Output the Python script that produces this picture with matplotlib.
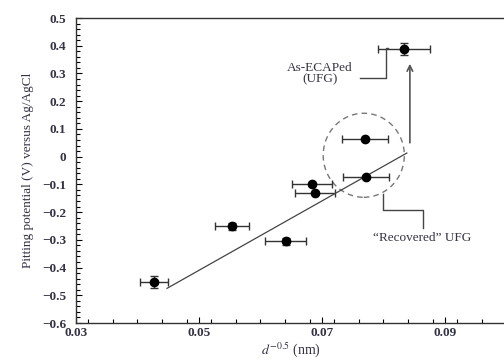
import matplotlib
matplotlib.use('Agg')
import matplotlib.pyplot as plt
from matplotlib.patches import Ellipse
from matplotlib.ticker import MultipleLocator

# 数据：晶粒尺寸 d^-0.5 与点蚀电位
x_vals = [0.0427, 0.0554, 0.0641, 0.0684, 0.0689, 0.0770, 0.0772, 0.0833]
y_vals = [-0.453, -0.251, -0.305, -0.099, -0.132, 0.063, -0.074, 0.388]
x_err = [0.0023, 0.0028, 0.0033, 0.0033, 0.0033, 0.0037, 0.0037, 0.0042]
y_err = [0.022, 0.012, 0.012, 0.0, 0.0, 0.0, 0.0, 0.022]

# 拟合直线端点
fit_x = [0.0448, 0.0838]
fit_y = [-0.475, 0.013]

text_color = '#333344'
plt.rcParams['font.family'] = ['Liberation Serif', 'DejaVu Serif']
plt.rcParams['mathtext.fontset'] = 'stix'

fig = plt.figure(figsize=(5.04, 3.62), dpi=100)
ax = fig.add_axes([0.1508, 0.1077, 0.854, 0.8425])

ax.errorbar(x_vals, y_vals, xerr=x_err, yerr=y_err, fmt='o', color='black',
            ecolor='#333333', elinewidth=1, capsize=3, markersize=6)
ax.plot(fit_x, fit_y, color='#444444', lw=0.9)

# 虚线椭圆
ax.add_patch(Ellipse((0.0768, 0.005), 0.0132, 0.303, fill=False,
                     ls=(0, (4, 3)), lw=1, edgecolor='#777777'))

# 箭头
ax.annotate('', xy=(0.0843, 0.345), xytext=(0.0843, 0.04),
            arrowprops=dict(arrowstyle='->', color='#555555', lw=1.2))

# As-ECAPed 标注
ax.plot([0.0762, 0.0804, 0.0804, 0.0808], [0.283, 0.283, 0.392, 0.392],
        color='#444444', lw=1)
ax.text(0.0697, 0.300, 'As-ECAPed\n(UFG)', ha='center', va='center',
        fontsize=9.5, color=text_color, linespacing=0.85)

# Recovered 标注
ax.plot([0.0799, 0.0799, 0.0864, 0.0864], [-0.135, -0.193, -0.193, -0.258],
        color='#444444', lw=1)
ax.text(0.0863, -0.294, '\u201cRecovered\u201d UFG', ha='center', va='center',
        fontsize=9.5, color=text_color)

ax.set_xlim(0.03, 0.10)
ax.set_ylim(-0.6, 0.5)
ax.xaxis.set_minor_locator(MultipleLocator(0.004))
ax.yaxis.set_minor_locator(MultipleLocator(0.02))
xt = [0.03, 0.05, 0.07, 0.09]
ax.set_xticks(xt)
ax.set_xticklabels(['%.2f' % v for v in xt])
yt = [0.5, 0.4, 0.3, 0.2, 0.1, 0, -0.1, -0.2, -0.3, -0.4, -0.5, -0.6]
ax.set_yticks(yt)
ax.set_yticklabels([('%g' % v).replace('-', '\u2212') for v in yt])

ax.tick_params(which='both', direction='in', top=False, right=False,
               labelsize=9.5, labelcolor=text_color, width=0.8)
ax.tick_params(axis='y', pad=7)
ax.tick_params(axis='x', pad=3)
ax.tick_params(which='major', length=4)
ax.tick_params(which='minor', length=3)
for lab in ax.get_xticklabels() + ax.get_yticklabels():
    lab.set_fontweight('bold')
for s in ['left', 'bottom', 'top']:
    ax.spines[s].set_linewidth(1)
    ax.spines[s].set_color('#333333')
ax.spines['right'].set_visible(False)

ax.set_ylabel('Pitting potential (V) versus Ag/AgCl', fontsize=9.5,
              color=text_color, labelpad=6)
ax.set_xlabel('$d^{-0.5}$ (nm)', fontsize=10, color=text_color, labelpad=1)

fig.savefig('out.png', dpi=100)
